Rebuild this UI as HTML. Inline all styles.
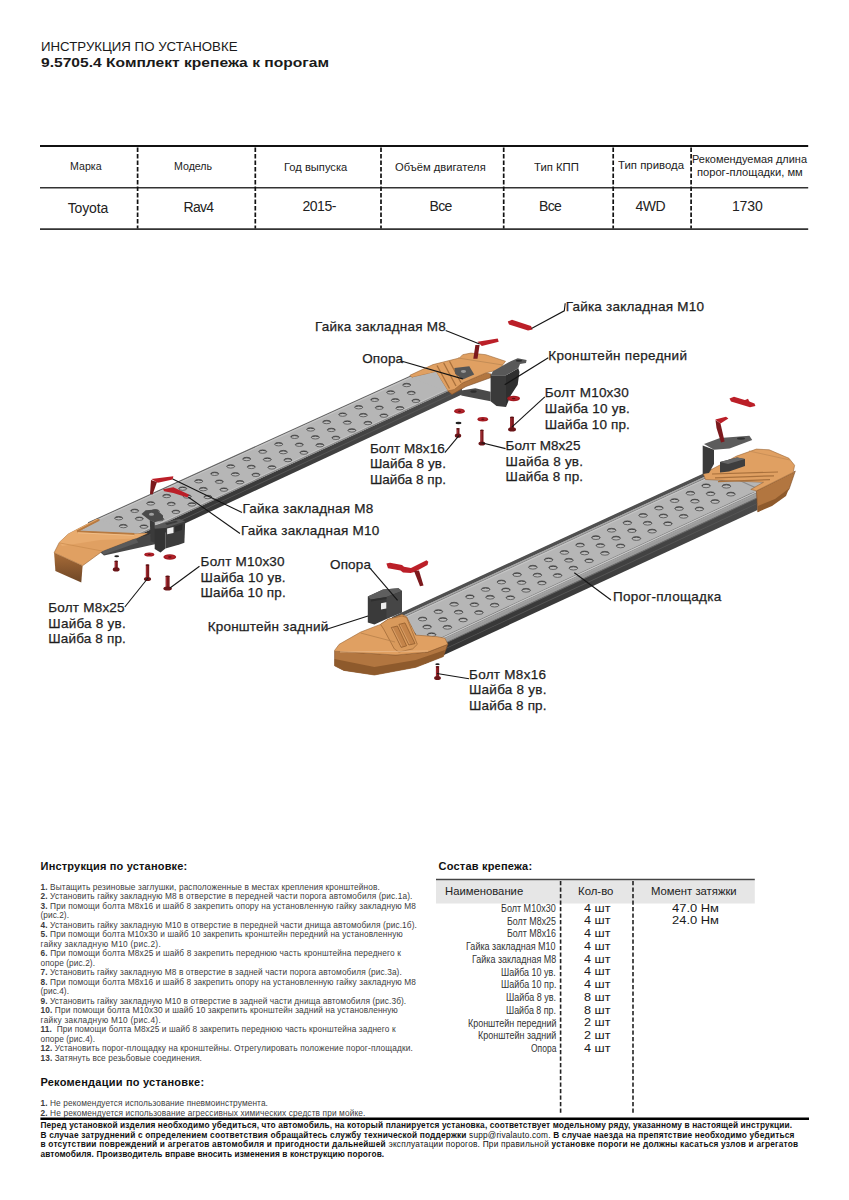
<!DOCTYPE html>
<html><head><meta charset="utf-8"><title>Инструкция по установке</title>
<style>
html,body{margin:0;padding:0;background:#fff;}
body{width:849px;height:1200px;position:relative;overflow:hidden;font-family:"Liberation Sans",sans-serif;}
.t{position:absolute;white-space:pre;line-height:1;font-family:"Liberation Sans",sans-serif;}
.t b{font-weight:700;}
</style></head><body>
<svg width="849" height="1200" viewBox="0 0 849 1200" style="position:absolute;left:0;top:0"><line x1="40.0" y1="146.0" x2="808.2" y2="146.0" stroke="#111" stroke-width="2.2" />
<line x1="40.0" y1="187.8" x2="808.2" y2="187.8" stroke="#333" stroke-width="1.6" />
<line x1="40.0" y1="229.1" x2="808.2" y2="229.1" stroke="#333" stroke-width="1.6" />
<line x1="137.6" y1="147.5" x2="137.6" y2="228.5" stroke="#111" stroke-width="1.7" stroke-dasharray="4.6 1.9"/>
<line x1="255.3" y1="147.5" x2="255.3" y2="228.5" stroke="#111" stroke-width="1.7" stroke-dasharray="4.6 1.9"/>
<line x1="381.0" y1="147.5" x2="381.0" y2="228.5" stroke="#111" stroke-width="1.7" stroke-dasharray="4.6 1.9"/>
<line x1="503.7" y1="147.5" x2="503.7" y2="228.5" stroke="#111" stroke-width="1.7" stroke-dasharray="4.6 1.9"/>
<line x1="613.2" y1="147.5" x2="613.2" y2="228.5" stroke="#111" stroke-width="1.7" stroke-dasharray="4.6 1.9"/>
<line x1="691.1" y1="147.5" x2="691.1" y2="228.5" stroke="#111" stroke-width="1.7" stroke-dasharray="4.6 1.9"/>
<rect x="436" y="880.3" width="318.8" height="23.2" fill="#e6e6e6"/>
<line x1="436.0" y1="879.6" x2="754.8" y2="879.6" stroke="#444" stroke-width="1.5" />
<line x1="560.6" y1="881.0" x2="560.6" y2="1115.0" stroke="#222" stroke-width="1.6" stroke-dasharray="4.2 2.3"/>
<line x1="633.0" y1="881.0" x2="633.0" y2="1115.0" stroke="#222" stroke-width="1.6" stroke-dasharray="4.2 2.3"/>
<line x1="40.4" y1="1118.7" x2="809.0" y2="1118.7" stroke="#000" stroke-width="2.4" />
<linearGradient id="c1g" x1="0" y1="0" x2="0" y2="1"><stop offset="0" stop-color="#4c4c4c"/><stop offset="0.55" stop-color="#3c3c3c"/><stop offset="1" stop-color="#333"/></linearGradient>
<polygon points="130.0,539.0 462.0,384.4 462.0,394.4 130.0,549.0" fill="url(#c1g)" />
<polygon points="130.0,543.6 462.0,389.0 462.0,389.9 130.0,544.5" fill="#565656" />
<polygon points="88.0,522.8 420.0,371.7 462.0,384.4 130.0,539.0" fill="#b6b6b6" />
<polygon points="88.0,522.3 420.0,371.2 420.0,372.5 88.0,523.6" fill="#686868" />
<polygon points="88.0,523.6 420.0,372.5 420.0,373.7 88.0,524.8" fill="#c6c6c6" />
<polygon points="130.0,536.8 462.0,382.2 462.0,383.2 130.0,537.8" fill="#c8c8c8" />
<polygon points="130.0,537.8 462.0,383.2 462.0,384.7 130.0,539.3" fill="#8c8c8c" />
<clipPath id="c1"><polygon points="88.0,522.8 420.0,371.7 462.0,384.4 130.0,539.0"/></clipPath>
<g clip-path="url(#c1)">
<ellipse cx="86.7" cy="533.0" rx="4.0" ry="1.7" fill="#bdbdbd" stroke="#5a5a5a" stroke-width="0.9" />
<path d="M83.0,533.2 A3.7,1.4 0 0 1 90.4,533.2" fill="none" stroke="#444" stroke-width="1.0"/>
<ellipse cx="91.3" cy="540.9" rx="4.0" ry="1.7" fill="#bdbdbd" stroke="#5a5a5a" stroke-width="0.9" />
<path d="M87.6,541.1 A3.7,1.4 0 0 1 95.0,541.1" fill="none" stroke="#444" stroke-width="1.0"/>
<ellipse cx="95.9" cy="548.8" rx="4.0" ry="1.7" fill="#bdbdbd" stroke="#5a5a5a" stroke-width="0.9" />
<path d="M92.2,549.0 A3.7,1.4 0 0 1 99.6,549.0" fill="none" stroke="#444" stroke-width="1.0"/>
<ellipse cx="102.7" cy="525.6" rx="4.0" ry="1.7" fill="#bdbdbd" stroke="#5a5a5a" stroke-width="0.9" />
<path d="M99.0,525.8 A3.7,1.4 0 0 1 106.4,525.8" fill="none" stroke="#444" stroke-width="1.0"/>
<ellipse cx="107.3" cy="533.5" rx="4.0" ry="1.7" fill="#bdbdbd" stroke="#5a5a5a" stroke-width="0.9" />
<path d="M103.6,533.7 A3.7,1.4 0 0 1 111.0,533.7" fill="none" stroke="#444" stroke-width="1.0"/>
<ellipse cx="111.9" cy="541.4" rx="4.0" ry="1.7" fill="#bdbdbd" stroke="#5a5a5a" stroke-width="0.9" />
<path d="M108.2,541.6 A3.7,1.4 0 0 1 115.6,541.6" fill="none" stroke="#444" stroke-width="1.0"/>
<ellipse cx="118.7" cy="518.2" rx="4.0" ry="1.7" fill="#bdbdbd" stroke="#5a5a5a" stroke-width="0.9" />
<path d="M115.0,518.4 A3.7,1.4 0 0 1 122.4,518.4" fill="none" stroke="#444" stroke-width="1.0"/>
<ellipse cx="123.3" cy="526.1" rx="4.0" ry="1.7" fill="#bdbdbd" stroke="#5a5a5a" stroke-width="0.9" />
<path d="M119.6,526.3 A3.7,1.4 0 0 1 127.0,526.3" fill="none" stroke="#444" stroke-width="1.0"/>
<ellipse cx="127.9" cy="534.0" rx="4.0" ry="1.7" fill="#bdbdbd" stroke="#5a5a5a" stroke-width="0.9" />
<path d="M124.2,534.2 A3.7,1.4 0 0 1 131.6,534.2" fill="none" stroke="#444" stroke-width="1.0"/>
<ellipse cx="134.7" cy="510.8" rx="4.0" ry="1.7" fill="#bdbdbd" stroke="#5a5a5a" stroke-width="0.9" />
<path d="M131.0,511.0 A3.7,1.4 0 0 1 138.4,511.0" fill="none" stroke="#444" stroke-width="1.0"/>
<ellipse cx="139.3" cy="518.7" rx="4.0" ry="1.7" fill="#bdbdbd" stroke="#5a5a5a" stroke-width="0.9" />
<path d="M135.6,518.9 A3.7,1.4 0 0 1 143.0,518.9" fill="none" stroke="#444" stroke-width="1.0"/>
<ellipse cx="143.9" cy="526.6" rx="4.0" ry="1.7" fill="#bdbdbd" stroke="#5a5a5a" stroke-width="0.9" />
<path d="M140.2,526.8 A3.7,1.4 0 0 1 147.6,526.8" fill="none" stroke="#444" stroke-width="1.0"/>
<ellipse cx="150.7" cy="503.4" rx="4.0" ry="1.7" fill="#bdbdbd" stroke="#5a5a5a" stroke-width="0.9" />
<path d="M147.0,503.6 A3.7,1.4 0 0 1 154.4,503.6" fill="none" stroke="#444" stroke-width="1.0"/>
<ellipse cx="155.3" cy="511.3" rx="4.0" ry="1.7" fill="#bdbdbd" stroke="#5a5a5a" stroke-width="0.9" />
<path d="M151.6,511.5 A3.7,1.4 0 0 1 159.0,511.5" fill="none" stroke="#444" stroke-width="1.0"/>
<ellipse cx="159.9" cy="519.2" rx="4.0" ry="1.7" fill="#bdbdbd" stroke="#5a5a5a" stroke-width="0.9" />
<path d="M156.2,519.4 A3.7,1.4 0 0 1 163.6,519.4" fill="none" stroke="#444" stroke-width="1.0"/>
<ellipse cx="166.7" cy="496.0" rx="4.0" ry="1.7" fill="#bdbdbd" stroke="#5a5a5a" stroke-width="0.9" />
<path d="M163.0,496.2 A3.7,1.4 0 0 1 170.4,496.2" fill="none" stroke="#444" stroke-width="1.0"/>
<ellipse cx="171.3" cy="503.9" rx="4.0" ry="1.7" fill="#bdbdbd" stroke="#5a5a5a" stroke-width="0.9" />
<path d="M167.6,504.1 A3.7,1.4 0 0 1 175.0,504.1" fill="none" stroke="#444" stroke-width="1.0"/>
<ellipse cx="175.9" cy="511.8" rx="4.0" ry="1.7" fill="#bdbdbd" stroke="#5a5a5a" stroke-width="0.9" />
<path d="M172.2,512.0 A3.7,1.4 0 0 1 179.6,512.0" fill="none" stroke="#444" stroke-width="1.0"/>
<ellipse cx="182.7" cy="488.6" rx="4.0" ry="1.7" fill="#bdbdbd" stroke="#5a5a5a" stroke-width="0.9" />
<path d="M179.0,488.8 A3.7,1.4 0 0 1 186.4,488.8" fill="none" stroke="#444" stroke-width="1.0"/>
<ellipse cx="187.3" cy="496.5" rx="4.0" ry="1.7" fill="#bdbdbd" stroke="#5a5a5a" stroke-width="0.9" />
<path d="M183.6,496.7 A3.7,1.4 0 0 1 191.0,496.7" fill="none" stroke="#444" stroke-width="1.0"/>
<ellipse cx="191.9" cy="504.4" rx="4.0" ry="1.7" fill="#bdbdbd" stroke="#5a5a5a" stroke-width="0.9" />
<path d="M188.2,504.6 A3.7,1.4 0 0 1 195.6,504.6" fill="none" stroke="#444" stroke-width="1.0"/>
<ellipse cx="198.7" cy="481.2" rx="4.0" ry="1.7" fill="#bdbdbd" stroke="#5a5a5a" stroke-width="0.9" />
<path d="M195.0,481.4 A3.7,1.4 0 0 1 202.4,481.4" fill="none" stroke="#444" stroke-width="1.0"/>
<ellipse cx="203.3" cy="489.1" rx="4.0" ry="1.7" fill="#bdbdbd" stroke="#5a5a5a" stroke-width="0.9" />
<path d="M199.6,489.3 A3.7,1.4 0 0 1 207.0,489.3" fill="none" stroke="#444" stroke-width="1.0"/>
<ellipse cx="207.9" cy="497.0" rx="4.0" ry="1.7" fill="#bdbdbd" stroke="#5a5a5a" stroke-width="0.9" />
<path d="M204.2,497.2 A3.7,1.4 0 0 1 211.6,497.2" fill="none" stroke="#444" stroke-width="1.0"/>
<ellipse cx="214.7" cy="473.8" rx="4.0" ry="1.7" fill="#bdbdbd" stroke="#5a5a5a" stroke-width="0.9" />
<path d="M211.0,474.0 A3.7,1.4 0 0 1 218.4,474.0" fill="none" stroke="#444" stroke-width="1.0"/>
<ellipse cx="219.3" cy="481.7" rx="4.0" ry="1.7" fill="#bdbdbd" stroke="#5a5a5a" stroke-width="0.9" />
<path d="M215.6,481.9 A3.7,1.4 0 0 1 223.0,481.9" fill="none" stroke="#444" stroke-width="1.0"/>
<ellipse cx="223.9" cy="489.6" rx="4.0" ry="1.7" fill="#bdbdbd" stroke="#5a5a5a" stroke-width="0.9" />
<path d="M220.2,489.8 A3.7,1.4 0 0 1 227.6,489.8" fill="none" stroke="#444" stroke-width="1.0"/>
<ellipse cx="230.7" cy="466.4" rx="4.0" ry="1.7" fill="#bdbdbd" stroke="#5a5a5a" stroke-width="0.9" />
<path d="M227.0,466.6 A3.7,1.4 0 0 1 234.4,466.6" fill="none" stroke="#444" stroke-width="1.0"/>
<ellipse cx="235.3" cy="474.3" rx="4.0" ry="1.7" fill="#bdbdbd" stroke="#5a5a5a" stroke-width="0.9" />
<path d="M231.6,474.5 A3.7,1.4 0 0 1 239.0,474.5" fill="none" stroke="#444" stroke-width="1.0"/>
<ellipse cx="239.9" cy="482.2" rx="4.0" ry="1.7" fill="#bdbdbd" stroke="#5a5a5a" stroke-width="0.9" />
<path d="M236.2,482.4 A3.7,1.4 0 0 1 243.6,482.4" fill="none" stroke="#444" stroke-width="1.0"/>
<ellipse cx="246.7" cy="459.0" rx="4.0" ry="1.7" fill="#bdbdbd" stroke="#5a5a5a" stroke-width="0.9" />
<path d="M243.0,459.2 A3.7,1.4 0 0 1 250.4,459.2" fill="none" stroke="#444" stroke-width="1.0"/>
<ellipse cx="251.3" cy="466.9" rx="4.0" ry="1.7" fill="#bdbdbd" stroke="#5a5a5a" stroke-width="0.9" />
<path d="M247.6,467.1 A3.7,1.4 0 0 1 255.0,467.1" fill="none" stroke="#444" stroke-width="1.0"/>
<ellipse cx="255.9" cy="474.8" rx="4.0" ry="1.7" fill="#bdbdbd" stroke="#5a5a5a" stroke-width="0.9" />
<path d="M252.2,475.0 A3.7,1.4 0 0 1 259.6,475.0" fill="none" stroke="#444" stroke-width="1.0"/>
<ellipse cx="262.7" cy="451.6" rx="4.0" ry="1.7" fill="#bdbdbd" stroke="#5a5a5a" stroke-width="0.9" />
<path d="M259.0,451.8 A3.7,1.4 0 0 1 266.4,451.8" fill="none" stroke="#444" stroke-width="1.0"/>
<ellipse cx="267.3" cy="459.5" rx="4.0" ry="1.7" fill="#bdbdbd" stroke="#5a5a5a" stroke-width="0.9" />
<path d="M263.6,459.7 A3.7,1.4 0 0 1 271.0,459.7" fill="none" stroke="#444" stroke-width="1.0"/>
<ellipse cx="271.9" cy="467.4" rx="4.0" ry="1.7" fill="#bdbdbd" stroke="#5a5a5a" stroke-width="0.9" />
<path d="M268.2,467.6 A3.7,1.4 0 0 1 275.6,467.6" fill="none" stroke="#444" stroke-width="1.0"/>
<ellipse cx="278.7" cy="444.2" rx="4.0" ry="1.7" fill="#bdbdbd" stroke="#5a5a5a" stroke-width="0.9" />
<path d="M275.0,444.4 A3.7,1.4 0 0 1 282.4,444.4" fill="none" stroke="#444" stroke-width="1.0"/>
<ellipse cx="283.3" cy="452.1" rx="4.0" ry="1.7" fill="#bdbdbd" stroke="#5a5a5a" stroke-width="0.9" />
<path d="M279.6,452.3 A3.7,1.4 0 0 1 287.0,452.3" fill="none" stroke="#444" stroke-width="1.0"/>
<ellipse cx="287.9" cy="460.0" rx="4.0" ry="1.7" fill="#bdbdbd" stroke="#5a5a5a" stroke-width="0.9" />
<path d="M284.2,460.2 A3.7,1.4 0 0 1 291.6,460.2" fill="none" stroke="#444" stroke-width="1.0"/>
<ellipse cx="294.7" cy="436.8" rx="4.0" ry="1.7" fill="#bdbdbd" stroke="#5a5a5a" stroke-width="0.9" />
<path d="M291.0,437.0 A3.7,1.4 0 0 1 298.4,437.0" fill="none" stroke="#444" stroke-width="1.0"/>
<ellipse cx="299.3" cy="444.7" rx="4.0" ry="1.7" fill="#bdbdbd" stroke="#5a5a5a" stroke-width="0.9" />
<path d="M295.6,444.9 A3.7,1.4 0 0 1 303.0,444.9" fill="none" stroke="#444" stroke-width="1.0"/>
<ellipse cx="303.9" cy="452.6" rx="4.0" ry="1.7" fill="#bdbdbd" stroke="#5a5a5a" stroke-width="0.9" />
<path d="M300.2,452.8 A3.7,1.4 0 0 1 307.6,452.8" fill="none" stroke="#444" stroke-width="1.0"/>
<ellipse cx="310.7" cy="429.4" rx="4.0" ry="1.7" fill="#bdbdbd" stroke="#5a5a5a" stroke-width="0.9" />
<path d="M307.0,429.6 A3.7,1.4 0 0 1 314.4,429.6" fill="none" stroke="#444" stroke-width="1.0"/>
<ellipse cx="315.3" cy="437.3" rx="4.0" ry="1.7" fill="#bdbdbd" stroke="#5a5a5a" stroke-width="0.9" />
<path d="M311.6,437.5 A3.7,1.4 0 0 1 319.0,437.5" fill="none" stroke="#444" stroke-width="1.0"/>
<ellipse cx="319.9" cy="445.2" rx="4.0" ry="1.7" fill="#bdbdbd" stroke="#5a5a5a" stroke-width="0.9" />
<path d="M316.2,445.4 A3.7,1.4 0 0 1 323.6,445.4" fill="none" stroke="#444" stroke-width="1.0"/>
<ellipse cx="326.7" cy="422.0" rx="4.0" ry="1.7" fill="#bdbdbd" stroke="#5a5a5a" stroke-width="0.9" />
<path d="M323.0,422.2 A3.7,1.4 0 0 1 330.4,422.2" fill="none" stroke="#444" stroke-width="1.0"/>
<ellipse cx="331.3" cy="429.9" rx="4.0" ry="1.7" fill="#bdbdbd" stroke="#5a5a5a" stroke-width="0.9" />
<path d="M327.6,430.1 A3.7,1.4 0 0 1 335.0,430.1" fill="none" stroke="#444" stroke-width="1.0"/>
<ellipse cx="335.9" cy="437.8" rx="4.0" ry="1.7" fill="#bdbdbd" stroke="#5a5a5a" stroke-width="0.9" />
<path d="M332.2,438.0 A3.7,1.4 0 0 1 339.6,438.0" fill="none" stroke="#444" stroke-width="1.0"/>
<ellipse cx="342.7" cy="414.6" rx="4.0" ry="1.7" fill="#bdbdbd" stroke="#5a5a5a" stroke-width="0.9" />
<path d="M339.0,414.8 A3.7,1.4 0 0 1 346.4,414.8" fill="none" stroke="#444" stroke-width="1.0"/>
<ellipse cx="347.3" cy="422.5" rx="4.0" ry="1.7" fill="#bdbdbd" stroke="#5a5a5a" stroke-width="0.9" />
<path d="M343.6,422.7 A3.7,1.4 0 0 1 351.0,422.7" fill="none" stroke="#444" stroke-width="1.0"/>
<ellipse cx="351.9" cy="430.4" rx="4.0" ry="1.7" fill="#bdbdbd" stroke="#5a5a5a" stroke-width="0.9" />
<path d="M348.2,430.6 A3.7,1.4 0 0 1 355.6,430.6" fill="none" stroke="#444" stroke-width="1.0"/>
<ellipse cx="358.7" cy="407.2" rx="4.0" ry="1.7" fill="#bdbdbd" stroke="#5a5a5a" stroke-width="0.9" />
<path d="M355.0,407.4 A3.7,1.4 0 0 1 362.4,407.4" fill="none" stroke="#444" stroke-width="1.0"/>
<ellipse cx="363.3" cy="415.1" rx="4.0" ry="1.7" fill="#bdbdbd" stroke="#5a5a5a" stroke-width="0.9" />
<path d="M359.6,415.3 A3.7,1.4 0 0 1 367.0,415.3" fill="none" stroke="#444" stroke-width="1.0"/>
<ellipse cx="367.9" cy="423.0" rx="4.0" ry="1.7" fill="#bdbdbd" stroke="#5a5a5a" stroke-width="0.9" />
<path d="M364.2,423.2 A3.7,1.4 0 0 1 371.6,423.2" fill="none" stroke="#444" stroke-width="1.0"/>
<ellipse cx="374.7" cy="399.8" rx="4.0" ry="1.7" fill="#bdbdbd" stroke="#5a5a5a" stroke-width="0.9" />
<path d="M371.0,400.0 A3.7,1.4 0 0 1 378.4,400.0" fill="none" stroke="#444" stroke-width="1.0"/>
<ellipse cx="379.3" cy="407.7" rx="4.0" ry="1.7" fill="#bdbdbd" stroke="#5a5a5a" stroke-width="0.9" />
<path d="M375.6,407.9 A3.7,1.4 0 0 1 383.0,407.9" fill="none" stroke="#444" stroke-width="1.0"/>
<ellipse cx="383.9" cy="415.6" rx="4.0" ry="1.7" fill="#bdbdbd" stroke="#5a5a5a" stroke-width="0.9" />
<path d="M380.2,415.8 A3.7,1.4 0 0 1 387.6,415.8" fill="none" stroke="#444" stroke-width="1.0"/>
<ellipse cx="390.7" cy="392.4" rx="4.0" ry="1.7" fill="#bdbdbd" stroke="#5a5a5a" stroke-width="0.9" />
<path d="M387.0,392.6 A3.7,1.4 0 0 1 394.4,392.6" fill="none" stroke="#444" stroke-width="1.0"/>
<ellipse cx="395.3" cy="400.3" rx="4.0" ry="1.7" fill="#bdbdbd" stroke="#5a5a5a" stroke-width="0.9" />
<path d="M391.6,400.5 A3.7,1.4 0 0 1 399.0,400.5" fill="none" stroke="#444" stroke-width="1.0"/>
<ellipse cx="399.9" cy="408.2" rx="4.0" ry="1.7" fill="#bdbdbd" stroke="#5a5a5a" stroke-width="0.9" />
<path d="M396.2,408.4 A3.7,1.4 0 0 1 403.6,408.4" fill="none" stroke="#444" stroke-width="1.0"/>
<ellipse cx="406.7" cy="385.0" rx="4.0" ry="1.7" fill="#bdbdbd" stroke="#5a5a5a" stroke-width="0.9" />
<path d="M403.0,385.2 A3.7,1.4 0 0 1 410.4,385.2" fill="none" stroke="#444" stroke-width="1.0"/>
<ellipse cx="411.3" cy="392.9" rx="4.0" ry="1.7" fill="#bdbdbd" stroke="#5a5a5a" stroke-width="0.9" />
<path d="M407.6,393.1 A3.7,1.4 0 0 1 415.0,393.1" fill="none" stroke="#444" stroke-width="1.0"/>
<ellipse cx="415.9" cy="400.8" rx="4.0" ry="1.7" fill="#bdbdbd" stroke="#5a5a5a" stroke-width="0.9" />
<path d="M412.2,401.0 A3.7,1.4 0 0 1 419.6,401.0" fill="none" stroke="#444" stroke-width="1.0"/>
</g>
<linearGradient id="c2g" x1="0" y1="0" x2="0" y2="1"><stop offset="0" stop-color="#4c4c4c"/><stop offset="0.55" stop-color="#3c3c3c"/><stop offset="1" stop-color="#333"/></linearGradient>
<polygon points="425.0,648.7 757.5,493.9 757.5,509.9 425.0,663.7" fill="url(#c2g)" />
<polygon points="425.0,648.7 757.5,493.9 757.5,497.7 425.0,652.5" fill="#9b9b9b" />
<polygon points="425.0,652.0 757.5,497.2 757.5,498.3 425.0,653.1" fill="#6a6a6a" />
<polygon points="425.0,657.7 757.5,502.9 757.5,503.8 425.0,658.6" fill="#565656" />
<polygon points="392.0,617.5 722.0,465.5 757.5,493.9 425.0,648.7" fill="#b6b6b6" />
<polygon points="392.0,616.9 722.0,464.9 722.0,468.7 392.0,620.7" fill="#505050" />
<polygon points="392.0,620.7 722.0,468.7 722.0,470.1 392.0,622.1" fill="#a8a8a8" />
<polygon points="392.0,622.1 722.0,470.1 722.0,470.9 392.0,622.9" fill="#7a7a7a" />
<polygon points="392.0,622.9 722.0,470.9 722.0,472.1 392.0,624.1" fill="#c6c6c6" />
<polygon points="425.0,644.9 757.5,490.1 757.5,490.9 425.0,645.7" fill="#7e7e7e" />
<polygon points="425.0,645.7 757.5,490.9 757.5,492.1 425.0,646.9" fill="#cacaca" />
<polygon points="425.0,646.9 757.5,492.1 757.5,492.9 425.0,647.7" fill="#888" />
<polygon points="425.0,647.7 757.5,492.9 757.5,494.2 425.0,649.0" fill="#a2a2a2" />
<clipPath id="c2"><polygon points="392.0,617.5 722.0,465.5 757.5,493.9 425.0,648.7"/></clipPath>
<g clip-path="url(#c2)">
<ellipse cx="391.1" cy="633.8" rx="4.3" ry="1.9" fill="#bdbdbd" stroke="#5a5a5a" stroke-width="0.9" />
<path d="M387.1,634.0 A4.0,1.6 0 0 1 395.1,634.0" fill="none" stroke="#444" stroke-width="1.0"/>
<ellipse cx="395.6" cy="641.6" rx="4.3" ry="1.9" fill="#bdbdbd" stroke="#5a5a5a" stroke-width="0.9" />
<path d="M391.6,641.9 A4.0,1.6 0 0 1 399.6,641.9" fill="none" stroke="#444" stroke-width="1.0"/>
<ellipse cx="400.1" cy="649.5" rx="4.3" ry="1.9" fill="#bdbdbd" stroke="#5a5a5a" stroke-width="0.9" />
<path d="M396.1,649.7 A4.0,1.6 0 0 1 404.1,649.7" fill="none" stroke="#444" stroke-width="1.0"/>
<ellipse cx="406.9" cy="626.4" rx="4.3" ry="1.9" fill="#bdbdbd" stroke="#5a5a5a" stroke-width="0.9" />
<path d="M402.9,626.6 A4.0,1.6 0 0 1 410.9,626.6" fill="none" stroke="#444" stroke-width="1.0"/>
<ellipse cx="411.4" cy="634.2" rx="4.3" ry="1.9" fill="#bdbdbd" stroke="#5a5a5a" stroke-width="0.9" />
<path d="M407.4,634.5 A4.0,1.6 0 0 1 415.4,634.5" fill="none" stroke="#444" stroke-width="1.0"/>
<ellipse cx="415.9" cy="642.1" rx="4.3" ry="1.9" fill="#bdbdbd" stroke="#5a5a5a" stroke-width="0.9" />
<path d="M411.9,642.3 A4.0,1.6 0 0 1 419.9,642.3" fill="none" stroke="#444" stroke-width="1.0"/>
<ellipse cx="422.6" cy="619.0" rx="4.3" ry="1.9" fill="#bdbdbd" stroke="#5a5a5a" stroke-width="0.9" />
<path d="M418.6,619.2 A4.0,1.6 0 0 1 426.6,619.2" fill="none" stroke="#444" stroke-width="1.0"/>
<ellipse cx="427.1" cy="626.9" rx="4.3" ry="1.9" fill="#bdbdbd" stroke="#5a5a5a" stroke-width="0.9" />
<path d="M423.1,627.1 A4.0,1.6 0 0 1 431.1,627.1" fill="none" stroke="#444" stroke-width="1.0"/>
<ellipse cx="431.6" cy="634.7" rx="4.3" ry="1.9" fill="#bdbdbd" stroke="#5a5a5a" stroke-width="0.9" />
<path d="M427.6,634.9 A4.0,1.6 0 0 1 435.6,634.9" fill="none" stroke="#444" stroke-width="1.0"/>
<ellipse cx="438.4" cy="611.6" rx="4.3" ry="1.9" fill="#bdbdbd" stroke="#5a5a5a" stroke-width="0.9" />
<path d="M434.4,611.8 A4.0,1.6 0 0 1 442.4,611.8" fill="none" stroke="#444" stroke-width="1.0"/>
<ellipse cx="442.9" cy="619.5" rx="4.3" ry="1.9" fill="#bdbdbd" stroke="#5a5a5a" stroke-width="0.9" />
<path d="M438.9,619.7 A4.0,1.6 0 0 1 446.9,619.7" fill="none" stroke="#444" stroke-width="1.0"/>
<ellipse cx="447.4" cy="627.3" rx="4.3" ry="1.9" fill="#bdbdbd" stroke="#5a5a5a" stroke-width="0.9" />
<path d="M443.4,627.5 A4.0,1.6 0 0 1 451.4,627.5" fill="none" stroke="#444" stroke-width="1.0"/>
<ellipse cx="454.1" cy="604.2" rx="4.3" ry="1.9" fill="#bdbdbd" stroke="#5a5a5a" stroke-width="0.9" />
<path d="M450.1,604.4 A4.0,1.6 0 0 1 458.1,604.4" fill="none" stroke="#444" stroke-width="1.0"/>
<ellipse cx="458.6" cy="612.1" rx="4.3" ry="1.9" fill="#bdbdbd" stroke="#5a5a5a" stroke-width="0.9" />
<path d="M454.6,612.3 A4.0,1.6 0 0 1 462.6,612.3" fill="none" stroke="#444" stroke-width="1.0"/>
<ellipse cx="463.1" cy="619.9" rx="4.3" ry="1.9" fill="#bdbdbd" stroke="#5a5a5a" stroke-width="0.9" />
<path d="M459.1,620.1 A4.0,1.6 0 0 1 467.1,620.1" fill="none" stroke="#444" stroke-width="1.0"/>
<ellipse cx="469.9" cy="596.8" rx="4.3" ry="1.9" fill="#bdbdbd" stroke="#5a5a5a" stroke-width="0.9" />
<path d="M465.9,597.0 A4.0,1.6 0 0 1 473.9,597.0" fill="none" stroke="#444" stroke-width="1.0"/>
<ellipse cx="474.4" cy="604.6" rx="4.3" ry="1.9" fill="#bdbdbd" stroke="#5a5a5a" stroke-width="0.9" />
<path d="M470.4,604.9 A4.0,1.6 0 0 1 478.4,604.9" fill="none" stroke="#444" stroke-width="1.0"/>
<ellipse cx="478.9" cy="612.5" rx="4.3" ry="1.9" fill="#bdbdbd" stroke="#5a5a5a" stroke-width="0.9" />
<path d="M474.9,612.7 A4.0,1.6 0 0 1 482.9,612.7" fill="none" stroke="#444" stroke-width="1.0"/>
<ellipse cx="485.6" cy="589.4" rx="4.3" ry="1.9" fill="#bdbdbd" stroke="#5a5a5a" stroke-width="0.9" />
<path d="M481.6,589.6 A4.0,1.6 0 0 1 489.6,589.6" fill="none" stroke="#444" stroke-width="1.0"/>
<ellipse cx="490.1" cy="597.2" rx="4.3" ry="1.9" fill="#bdbdbd" stroke="#5a5a5a" stroke-width="0.9" />
<path d="M486.1,597.5 A4.0,1.6 0 0 1 494.1,597.5" fill="none" stroke="#444" stroke-width="1.0"/>
<ellipse cx="494.6" cy="605.1" rx="4.3" ry="1.9" fill="#bdbdbd" stroke="#5a5a5a" stroke-width="0.9" />
<path d="M490.6,605.3 A4.0,1.6 0 0 1 498.6,605.3" fill="none" stroke="#444" stroke-width="1.0"/>
<ellipse cx="501.4" cy="582.0" rx="4.3" ry="1.9" fill="#bdbdbd" stroke="#5a5a5a" stroke-width="0.9" />
<path d="M497.4,582.2 A4.0,1.6 0 0 1 505.4,582.2" fill="none" stroke="#444" stroke-width="1.0"/>
<ellipse cx="505.9" cy="589.9" rx="4.3" ry="1.9" fill="#bdbdbd" stroke="#5a5a5a" stroke-width="0.9" />
<path d="M501.9,590.1 A4.0,1.6 0 0 1 509.9,590.1" fill="none" stroke="#444" stroke-width="1.0"/>
<ellipse cx="510.4" cy="597.7" rx="4.3" ry="1.9" fill="#bdbdbd" stroke="#5a5a5a" stroke-width="0.9" />
<path d="M506.4,597.9 A4.0,1.6 0 0 1 514.4,597.9" fill="none" stroke="#444" stroke-width="1.0"/>
<ellipse cx="517.1" cy="574.6" rx="4.3" ry="1.9" fill="#bdbdbd" stroke="#5a5a5a" stroke-width="0.9" />
<path d="M513.1,574.8 A4.0,1.6 0 0 1 521.1,574.8" fill="none" stroke="#444" stroke-width="1.0"/>
<ellipse cx="521.6" cy="582.5" rx="4.3" ry="1.9" fill="#bdbdbd" stroke="#5a5a5a" stroke-width="0.9" />
<path d="M517.6,582.7 A4.0,1.6 0 0 1 525.6,582.7" fill="none" stroke="#444" stroke-width="1.0"/>
<ellipse cx="526.1" cy="590.3" rx="4.3" ry="1.9" fill="#bdbdbd" stroke="#5a5a5a" stroke-width="0.9" />
<path d="M522.1,590.5 A4.0,1.6 0 0 1 530.1,590.5" fill="none" stroke="#444" stroke-width="1.0"/>
<ellipse cx="532.9" cy="567.2" rx="4.3" ry="1.9" fill="#bdbdbd" stroke="#5a5a5a" stroke-width="0.9" />
<path d="M528.9,567.4 A4.0,1.6 0 0 1 536.9,567.4" fill="none" stroke="#444" stroke-width="1.0"/>
<ellipse cx="537.4" cy="575.1" rx="4.3" ry="1.9" fill="#bdbdbd" stroke="#5a5a5a" stroke-width="0.9" />
<path d="M533.4,575.3 A4.0,1.6 0 0 1 541.4,575.3" fill="none" stroke="#444" stroke-width="1.0"/>
<ellipse cx="541.9" cy="582.9" rx="4.3" ry="1.9" fill="#bdbdbd" stroke="#5a5a5a" stroke-width="0.9" />
<path d="M537.9,583.1 A4.0,1.6 0 0 1 545.9,583.1" fill="none" stroke="#444" stroke-width="1.0"/>
<ellipse cx="548.6" cy="559.8" rx="4.3" ry="1.9" fill="#bdbdbd" stroke="#5a5a5a" stroke-width="0.9" />
<path d="M544.6,560.0 A4.0,1.6 0 0 1 552.6,560.0" fill="none" stroke="#444" stroke-width="1.0"/>
<ellipse cx="553.1" cy="567.6" rx="4.3" ry="1.9" fill="#bdbdbd" stroke="#5a5a5a" stroke-width="0.9" />
<path d="M549.1,567.9 A4.0,1.6 0 0 1 557.1,567.9" fill="none" stroke="#444" stroke-width="1.0"/>
<ellipse cx="557.6" cy="575.5" rx="4.3" ry="1.9" fill="#bdbdbd" stroke="#5a5a5a" stroke-width="0.9" />
<path d="M553.6,575.7 A4.0,1.6 0 0 1 561.6,575.7" fill="none" stroke="#444" stroke-width="1.0"/>
<ellipse cx="564.4" cy="552.4" rx="4.3" ry="1.9" fill="#bdbdbd" stroke="#5a5a5a" stroke-width="0.9" />
<path d="M560.4,552.6 A4.0,1.6 0 0 1 568.4,552.6" fill="none" stroke="#444" stroke-width="1.0"/>
<ellipse cx="568.9" cy="560.2" rx="4.3" ry="1.9" fill="#bdbdbd" stroke="#5a5a5a" stroke-width="0.9" />
<path d="M564.9,560.5 A4.0,1.6 0 0 1 572.9,560.5" fill="none" stroke="#444" stroke-width="1.0"/>
<ellipse cx="573.4" cy="568.1" rx="4.3" ry="1.9" fill="#bdbdbd" stroke="#5a5a5a" stroke-width="0.9" />
<path d="M569.4,568.3 A4.0,1.6 0 0 1 577.4,568.3" fill="none" stroke="#444" stroke-width="1.0"/>
<ellipse cx="580.1" cy="545.0" rx="4.3" ry="1.9" fill="#bdbdbd" stroke="#5a5a5a" stroke-width="0.9" />
<path d="M576.1,545.2 A4.0,1.6 0 0 1 584.1,545.2" fill="none" stroke="#444" stroke-width="1.0"/>
<ellipse cx="584.6" cy="552.9" rx="4.3" ry="1.9" fill="#bdbdbd" stroke="#5a5a5a" stroke-width="0.9" />
<path d="M580.6,553.1 A4.0,1.6 0 0 1 588.6,553.1" fill="none" stroke="#444" stroke-width="1.0"/>
<ellipse cx="589.1" cy="560.7" rx="4.3" ry="1.9" fill="#bdbdbd" stroke="#5a5a5a" stroke-width="0.9" />
<path d="M585.1,560.9 A4.0,1.6 0 0 1 593.1,560.9" fill="none" stroke="#444" stroke-width="1.0"/>
<ellipse cx="595.9" cy="537.6" rx="4.3" ry="1.9" fill="#bdbdbd" stroke="#5a5a5a" stroke-width="0.9" />
<path d="M591.9,537.8 A4.0,1.6 0 0 1 599.9,537.8" fill="none" stroke="#444" stroke-width="1.0"/>
<ellipse cx="600.4" cy="545.5" rx="4.3" ry="1.9" fill="#bdbdbd" stroke="#5a5a5a" stroke-width="0.9" />
<path d="M596.4,545.7 A4.0,1.6 0 0 1 604.4,545.7" fill="none" stroke="#444" stroke-width="1.0"/>
<ellipse cx="604.9" cy="553.3" rx="4.3" ry="1.9" fill="#bdbdbd" stroke="#5a5a5a" stroke-width="0.9" />
<path d="M600.9,553.5 A4.0,1.6 0 0 1 608.9,553.5" fill="none" stroke="#444" stroke-width="1.0"/>
<ellipse cx="611.6" cy="530.2" rx="4.3" ry="1.9" fill="#bdbdbd" stroke="#5a5a5a" stroke-width="0.9" />
<path d="M607.6,530.4 A4.0,1.6 0 0 1 615.6,530.4" fill="none" stroke="#444" stroke-width="1.0"/>
<ellipse cx="616.1" cy="538.1" rx="4.3" ry="1.9" fill="#bdbdbd" stroke="#5a5a5a" stroke-width="0.9" />
<path d="M612.1,538.3 A4.0,1.6 0 0 1 620.1,538.3" fill="none" stroke="#444" stroke-width="1.0"/>
<ellipse cx="620.6" cy="545.9" rx="4.3" ry="1.9" fill="#bdbdbd" stroke="#5a5a5a" stroke-width="0.9" />
<path d="M616.6,546.1 A4.0,1.6 0 0 1 624.6,546.1" fill="none" stroke="#444" stroke-width="1.0"/>
<ellipse cx="627.4" cy="522.8" rx="4.3" ry="1.9" fill="#bdbdbd" stroke="#5a5a5a" stroke-width="0.9" />
<path d="M623.4,523.0 A4.0,1.6 0 0 1 631.4,523.0" fill="none" stroke="#444" stroke-width="1.0"/>
<ellipse cx="631.9" cy="530.6" rx="4.3" ry="1.9" fill="#bdbdbd" stroke="#5a5a5a" stroke-width="0.9" />
<path d="M627.9,530.9 A4.0,1.6 0 0 1 635.9,530.9" fill="none" stroke="#444" stroke-width="1.0"/>
<ellipse cx="636.4" cy="538.5" rx="4.3" ry="1.9" fill="#bdbdbd" stroke="#5a5a5a" stroke-width="0.9" />
<path d="M632.4,538.7 A4.0,1.6 0 0 1 640.4,538.7" fill="none" stroke="#444" stroke-width="1.0"/>
<ellipse cx="643.1" cy="515.4" rx="4.3" ry="1.9" fill="#bdbdbd" stroke="#5a5a5a" stroke-width="0.9" />
<path d="M639.1,515.6 A4.0,1.6 0 0 1 647.1,515.6" fill="none" stroke="#444" stroke-width="1.0"/>
<ellipse cx="647.6" cy="523.2" rx="4.3" ry="1.9" fill="#bdbdbd" stroke="#5a5a5a" stroke-width="0.9" />
<path d="M643.6,523.5 A4.0,1.6 0 0 1 651.6,523.5" fill="none" stroke="#444" stroke-width="1.0"/>
<ellipse cx="652.1" cy="531.1" rx="4.3" ry="1.9" fill="#bdbdbd" stroke="#5a5a5a" stroke-width="0.9" />
<path d="M648.1,531.3 A4.0,1.6 0 0 1 656.1,531.3" fill="none" stroke="#444" stroke-width="1.0"/>
<ellipse cx="658.9" cy="508.0" rx="4.3" ry="1.9" fill="#bdbdbd" stroke="#5a5a5a" stroke-width="0.9" />
<path d="M654.9,508.2 A4.0,1.6 0 0 1 662.9,508.2" fill="none" stroke="#444" stroke-width="1.0"/>
<ellipse cx="663.4" cy="515.9" rx="4.3" ry="1.9" fill="#bdbdbd" stroke="#5a5a5a" stroke-width="0.9" />
<path d="M659.4,516.1 A4.0,1.6 0 0 1 667.4,516.1" fill="none" stroke="#444" stroke-width="1.0"/>
<ellipse cx="667.9" cy="523.7" rx="4.3" ry="1.9" fill="#bdbdbd" stroke="#5a5a5a" stroke-width="0.9" />
<path d="M663.9,523.9 A4.0,1.6 0 0 1 671.9,523.9" fill="none" stroke="#444" stroke-width="1.0"/>
<ellipse cx="674.6" cy="500.6" rx="4.3" ry="1.9" fill="#bdbdbd" stroke="#5a5a5a" stroke-width="0.9" />
<path d="M670.6,500.8 A4.0,1.6 0 0 1 678.6,500.8" fill="none" stroke="#444" stroke-width="1.0"/>
<ellipse cx="679.1" cy="508.5" rx="4.3" ry="1.9" fill="#bdbdbd" stroke="#5a5a5a" stroke-width="0.9" />
<path d="M675.1,508.7 A4.0,1.6 0 0 1 683.1,508.7" fill="none" stroke="#444" stroke-width="1.0"/>
<ellipse cx="683.6" cy="516.3" rx="4.3" ry="1.9" fill="#bdbdbd" stroke="#5a5a5a" stroke-width="0.9" />
<path d="M679.6,516.5 A4.0,1.6 0 0 1 687.6,516.5" fill="none" stroke="#444" stroke-width="1.0"/>
<ellipse cx="690.4" cy="493.2" rx="4.3" ry="1.9" fill="#bdbdbd" stroke="#5a5a5a" stroke-width="0.9" />
<path d="M686.4,493.4 A4.0,1.6 0 0 1 694.4,493.4" fill="none" stroke="#444" stroke-width="1.0"/>
<ellipse cx="694.9" cy="501.1" rx="4.3" ry="1.9" fill="#bdbdbd" stroke="#5a5a5a" stroke-width="0.9" />
<path d="M690.9,501.2 A4.0,1.6 0 0 1 698.9,501.2" fill="none" stroke="#444" stroke-width="1.0"/>
<ellipse cx="699.4" cy="508.9" rx="4.3" ry="1.9" fill="#bdbdbd" stroke="#5a5a5a" stroke-width="0.9" />
<path d="M695.4,509.1 A4.0,1.6 0 0 1 703.4,509.1" fill="none" stroke="#444" stroke-width="1.0"/>
<ellipse cx="706.1" cy="485.8" rx="4.3" ry="1.9" fill="#bdbdbd" stroke="#5a5a5a" stroke-width="0.9" />
<path d="M702.1,486.0 A4.0,1.6 0 0 1 710.1,486.0" fill="none" stroke="#444" stroke-width="1.0"/>
<ellipse cx="710.6" cy="493.7" rx="4.3" ry="1.9" fill="#bdbdbd" stroke="#5a5a5a" stroke-width="0.9" />
<path d="M706.6,493.9 A4.0,1.6 0 0 1 714.6,493.9" fill="none" stroke="#444" stroke-width="1.0"/>
<ellipse cx="715.1" cy="501.5" rx="4.3" ry="1.9" fill="#bdbdbd" stroke="#5a5a5a" stroke-width="0.9" />
<path d="M711.1,501.7 A4.0,1.6 0 0 1 719.1,501.7" fill="none" stroke="#444" stroke-width="1.0"/>
<ellipse cx="721.9" cy="478.4" rx="4.3" ry="1.9" fill="#bdbdbd" stroke="#5a5a5a" stroke-width="0.9" />
<path d="M717.9,478.6 A4.0,1.6 0 0 1 725.9,478.6" fill="none" stroke="#444" stroke-width="1.0"/>
<ellipse cx="726.4" cy="486.2" rx="4.3" ry="1.9" fill="#bdbdbd" stroke="#5a5a5a" stroke-width="0.9" />
<path d="M722.4,486.4 A4.0,1.6 0 0 1 730.4,486.4" fill="none" stroke="#444" stroke-width="1.0"/>
<ellipse cx="730.9" cy="494.1" rx="4.3" ry="1.9" fill="#bdbdbd" stroke="#5a5a5a" stroke-width="0.9" />
<path d="M726.9,494.3 A4.0,1.6 0 0 1 734.9,494.3" fill="none" stroke="#444" stroke-width="1.0"/>
</g>
<polygon points="100.0,552.0 138.0,537.0 156.0,534.0 156.0,544.0 104.0,555.5" fill="#474747" />
<linearGradient id="sk1" x1="0" y1="0" x2="0" y2="1"><stop offset="0" stop-color="#a86c38"/><stop offset="1" stop-color="#6e4626"/></linearGradient>
<polygon points="54.1,552.8 82.6,565.7 81.3,582.6 55.4,570.9" fill="url(#sk1)" />
<polygon points="76.0,531.5 99.4,519.2 136.0,534.0" fill="#b6b6b6" />
<polygon points="54.1,552.8 59.3,542.4 68.3,534.0 96.8,519.1 99.4,519.7 78.0,531.5 134.4,534.0 147.4,533.3 135.7,538.5 102.0,551.5 82.6,565.7" fill="#e0a062" stroke="#9a6434" stroke-width="0.6" stroke-linejoin="round" />
<polygon points="59.3,542.4 68.3,534.0 96.8,519.1 99.4,519.7 78.0,531.5 134.4,534.0 147.4,533.3 135.7,538.5 100.0,540.0 62.0,546.0" fill="#e8ab6e" />
<line x1="77.0" y1="531.3" x2="99.2" y2="519.9" stroke="#b87a40" stroke-width="1.8" />
<line x1="77.0" y1="531.3" x2="134.4" y2="534.0" stroke="#b87a40" stroke-width="1.8" />
<line x1="78.0" y1="532.8" x2="134.0" y2="535.4" stroke="#f3c592" stroke-width="0.7" />
<line x1="60.0" y1="543.0" x2="102.0" y2="551.0" stroke="#c8894c" stroke-width="0.7" />
<polygon points="102.0,551.5 135.7,538.5 138.3,542.4 103.3,554.7" fill="#5a5a5a" />
<polygon points="447.8,391.0 462.7,382.8 485.8,372.9 491.0,374.0 491.0,377.5 466.0,386.5 452.0,394.5" fill="#b27640" stroke="#7a4a24" stroke-width="0.6" stroke-linejoin="round" />
<polygon points="409.9,375.3 433.0,364.6 459.4,358.0 462.7,354.7 470.9,353.1 485.8,354.7 505.5,361.3 499.0,369.6 485.8,372.9 462.7,382.8 454.4,389.4 447.8,391.0 436.0,372.0 412.0,377.5" fill="#e0a062" stroke="#9a6434" stroke-width="0.6" stroke-linejoin="round" />
<polygon points="412.0,377.5 436.0,372.0 447.8,391.0 430.0,385.0" fill="#b6b6b6" />
<line x1="437.0" y1="365.5" x2="449.5" y2="388.5" stroke="#a8703c" stroke-width="1.3" />
<line x1="443.7" y1="363.0" x2="456.0" y2="386.0" stroke="#a8703c" stroke-width="1.3" />
<line x1="449.5" y1="361.3" x2="461.0" y2="382.8" stroke="#a8703c" stroke-width="1.3" />
<line x1="458.0" y1="358.0" x2="503.0" y2="365.0" stroke="#c08a55" stroke-width="0.9" />
<polygon points="334.6,651.2 395.8,655.0 428.0,652.0 447.9,644.3 443.3,656.6 415.8,667.3 374.4,675.0 343.8,670.4 334.6,665.8" fill="#b27640" stroke="#7a4a24" stroke-width="0.6" stroke-linejoin="round" />
<polygon points="334.6,659.0 374.4,667.0 415.8,660.0 445.0,650.0 443.3,656.6 415.8,667.3 374.4,675.0 343.8,670.4 334.6,665.8" fill="#8e5a2c" />
<polygon points="334.6,650.4 339.2,644.3 360.6,632.1 380.5,624.4 388.2,619.8 402.0,614.5 406.6,616.8 415.8,635.1 437.2,636.7 444.9,638.2 447.9,644.3 428.0,652.0 395.8,655.0 334.6,651.2" fill="#e0a062" stroke="#9a6434" stroke-width="0.6" stroke-linejoin="round" />
<polygon points="380.5,624.4 388.2,619.0 402.0,616.0 406.6,617.5 417.3,644.3 412.7,648.9 398.9,652.0 394.3,648.9 383.6,629.0" fill="#d99a5c" stroke="#9a6434" stroke-width="0.7" stroke-linejoin="round" />
<polygon points="391.3,627.5 397.4,626.0 406.6,645.8 401.2,647.4" fill="#c4844a" stroke="#8a5628" stroke-width="0.7" stroke-linejoin="round" />
<polygon points="398.9,624.4 405.0,622.9 415.0,643.6 408.9,645.0" fill="#c4844a" stroke="#8a5628" stroke-width="0.7" stroke-linejoin="round" />
<line x1="392.5" y1="627.8" x2="401.8" y2="646.5" stroke="#e8b27a" stroke-width="0.6" />
<line x1="400.0" y1="624.8" x2="409.6" y2="644.2" stroke="#e8b27a" stroke-width="0.6" />
<line x1="360.6" y1="633.0" x2="395.0" y2="642.0" stroke="#b8804a" stroke-width="0.8" />
<line x1="340.0" y1="652.0" x2="428.0" y2="651.0" stroke="#e9b98a" stroke-width="0.8" />
<polygon points="715.0,472.0 764.0,482.3 757.0,491.5 745.0,494.0" fill="#b6b6b6" />
<polygon points="735.0,477.8 757.0,487.8 757.0,489.0 735.0,479.0" fill="#8a8a8a" />
<polygon points="756.4,490.8 793.2,472.4 795.3,471.0 789.0,489.4 774.8,500.7 757.8,512.0" fill="#b27640" stroke="#7a4a24" stroke-width="0.6" stroke-linejoin="round" />
<polygon points="775.0,499.0 789.0,488.4 786.0,496.0 772.0,506.0 757.8,512.0 757.8,506.0" fill="#8e5a2c" />
<polygon points="703.4,473.8 736.6,456.1 756.4,449.1 769.2,449.8 789.0,458.3 794.6,465.3 793.2,472.4 756.4,490.8 750.8,489.4 763.5,482.3 705.5,479.5" fill="#e0a062" stroke="#9a6434" stroke-width="0.6" stroke-linejoin="round" />
<line x1="712.0" y1="474.0" x2="778.0" y2="472.0" stroke="#a8703c" stroke-width="1.2" />
<line x1="715.0" y1="477.8" x2="774.0" y2="475.8" stroke="#a8703c" stroke-width="1.2" />
<line x1="718.0" y1="481.6" x2="770.0" y2="479.6" stroke="#a8703c" stroke-width="1.2" />
<line x1="749.0" y1="451.0" x2="790.0" y2="460.0" stroke="#c48c56" stroke-width="0.8" />
<polygon points="461.2,390.6 475.3,388.3 490.6,391.8 490.6,401.2 478.9,398.9 461.2,395.4" fill="#4a4a4a" />
<ellipse cx="473.5" cy="391.5" rx="3.2" ry="1.3" fill="#2e2e2e" />
<polygon points="506.0,375.3 518.3,368.3 519.5,372.0 517.7,384.8 510.7,395.4 506.0,407.1" fill="#2f2f2f" />
<polygon points="490.6,375.3 506.0,375.3 506.0,407.1 496.5,406.0 490.6,401.2" fill="#3a3a3a" />
<polygon points="493.0,371.2 510.7,361.2 517.7,358.3 526.6,360.0 526.0,363.0 520.0,364.1 518.3,368.3 506.0,375.3 490.6,375.3" fill="#585858" />
<ellipse cx="519.0" cy="360.8" rx="3.2" ry="1.0" fill="#2a2a2a" />
<polygon points="454.4,367.9 469.3,366.3 474.2,374.5 462.7,379.5 455.2,373.7" fill="#555" />
<ellipse cx="463.5" cy="371.5" rx="2.6" ry="1.4" fill="#999" />
<polygon points="149.8,519.7 154.7,522.2 155.6,543.0 150.6,541.2" fill="#3a3a3a" />
<polygon points="165.4,528.0 185.2,521.4 184.4,542.8 179.5,544.5 165.4,548.6" fill="#3c3c3c" />
<polygon points="167.1,528.6 173.5,527.0 173.5,533.0 167.1,534.2" fill="#f0f0f0" />
<polygon points="175.0,526.5 182.5,524.0 182.0,530.0 175.0,532.0" fill="#2c2c2c" />
<polygon points="154.7,525.5 165.4,528.0 165.4,548.6 160.5,552.5 154.7,549.0" fill="#333" />
<polygon points="154.7,525.5 165.4,522.2 179.5,518.9 185.2,521.4 165.4,528.0 154.7,528.8" fill="#595959" />
<polygon points="165.0,523.5 176.0,520.8 178.0,522.0 167.0,525.0" fill="#3a3a3a" />
<polygon points="141.5,514.0 145.7,510.3 156.4,509.4 163.0,515.6 163.0,519.7 154.7,522.2 149.0,519.7" fill="#4a4a4a" />
<ellipse cx="151.5" cy="514.2" rx="2.6" ry="1.5" fill="#a0a0a0" />
<polygon points="702.7,445.5 714.0,449.8 714.0,464.0 709.0,473.0 702.7,474.0" fill="#3a3a3a" />
<polygon points="704.0,444.0 720.0,438.0 749.4,435.7 752.2,439.9 729.6,448.4 714.0,449.8" fill="#5c5c5c" />
<ellipse cx="741.0" cy="438.5" rx="4.0" ry="1.2" fill="#333" />
<polygon points="720.0,462.0 737.0,457.5 745.0,459.0 745.0,466.0 729.0,471.5 720.0,472.5" fill="#3e3e3e" />
<polygon points="720.0,462.0 737.0,457.5 745.0,459.0 728.0,464.0" fill="#666" />
<polygon points="367.8,596.5 383.0,589.5 398.5,588.3 402.0,591.0 402.0,612.2 391.3,616.8 374.4,624.4 367.8,622.5" fill="#3a3a3a" />
<polygon points="367.8,596.5 383.0,589.5 398.5,588.3 402.0,591.0 386.5,597.0 371.0,599.5" fill="#5e5e5e" />
<polygon points="386.5,597.0 402.0,591.0 402.0,612.2 391.3,616.8 386.5,618.5" fill="#464646" />
<polygon points="381.0,603.2 386.3,602.3 386.3,608.6 381.0,609.5" fill="#eeeeee" />
<polygon points="371.0,599.5 386.5,597.0 386.5,599.0 371.0,601.5" fill="#2e2e2e" />
<polygon points="507.8,321.5 512.0,319.7 531.0,326.0 532.6,329.5 528.0,330.5 509.0,324.5" fill="#bb1f28" />
<polygon points="477.5,341.8 497.7,338.6 498.7,341.8 481.8,346.0" fill="#bb1f28" />
<polygon points="475.4,345.0 479.6,345.0 477.5,358.8 473.3,358.8" fill="#7c191d" />
<polygon points="151.3,478.9 173.3,476.3 172.7,479.5 157.8,482.7" fill="#bb1f28" />
<polygon points="151.0,480.0 157.0,482.0 152.6,494.4 150.0,494.0" fill="#7c191d" />
<polygon points="163.0,489.2 173.3,487.3 188.9,494.4 187.6,497.6 173.3,493.1 164.2,491.2" fill="#bb1f28" />
<polygon points="386.4,563.5 390.0,562.8 402.0,565.0 404.0,566.8 411.0,568.0 411.0,573.0 403.0,572.5 400.5,570.5 388.0,568.3" fill="#bb1f28" />
<polygon points="410.5,568.3 426.5,560.3 428.3,561.8 427.5,565.0 414.5,572.0 410.5,573.0" fill="#bb1f28" />
<polygon points="414.0,571.0 419.0,570.5 423.5,585.5 420.0,586.2" fill="#7c191d" />
<polygon points="715.3,419.5 726.0,416.8 728.4,418.5 720.5,423.5" fill="#bb1f28" />
<polygon points="715.5,420.0 720.5,423.5 724.6,441.5 721.0,442.5 716.5,428.0" fill="#7c191d" />
<polygon points="729.5,398.5 734.0,396.8 748.0,401.0 754.5,403.5 755.4,406.0 750.0,407.3 731.0,401.5" fill="#bb1f28" />
<polygon points="744.0,400.5 748.0,398.8 749.5,402.0 746.0,403.0" fill="#bb1f28" />
<ellipse cx="459.5" cy="411.2" rx="5.3" ry="2.6" fill="#a21a21" />
<ellipse cx="459.5" cy="411.0" rx="4.0" ry="1.4" fill="#b3222a" />
<ellipse cx="459.5" cy="411.2" rx="1.6" ry="0.8" fill="#5e0f12" />
<ellipse cx="482.8" cy="419.2" rx="5.3" ry="2.2" fill="#a21a21" />
<ellipse cx="482.8" cy="419.0" rx="4.0" ry="1.2" fill="#b3222a" />
<ellipse cx="482.8" cy="419.2" rx="1.6" ry="0.7" fill="#5e0f12" />
<ellipse cx="513.6" cy="398.5" rx="6.4" ry="2.7" fill="#a21a21" />
<ellipse cx="513.6" cy="398.3" rx="4.8" ry="1.5" fill="#b3222a" />
<ellipse cx="513.6" cy="398.5" rx="1.9" ry="0.8" fill="#5e0f12" />
<ellipse cx="458.5" cy="423.0" rx="3.0" ry="1.3" fill="#222" />
<rect x="456.5" y="428.5" width="3.0" height="7.7" fill="#7c191d"/>
<rect x="457.0" y="429.5" width="0.8" height="6.2" fill="#b0323a"/>
<ellipse cx="458.0" cy="435.7" rx="3.2" ry="2.1" fill="#6a1518" />
<ellipse cx="458.0" cy="428.8" rx="1.7" ry="0.8" fill="#5a1214" />
<rect x="480.3" y="430.0" width="3.2" height="14.0" fill="#7c191d"/>
<rect x="480.8" y="431.0" width="0.8" height="12.5" fill="#b0323a"/>
<ellipse cx="481.9" cy="443.5" rx="3.4" ry="2.1" fill="#6a1518" />
<ellipse cx="481.9" cy="430.3" rx="1.8" ry="0.8" fill="#5a1214" />
<rect x="510.1" y="417.0" width="3.8" height="12.9" fill="#7c191d"/>
<rect x="510.6" y="418.0" width="0.8" height="11.4" fill="#b0323a"/>
<ellipse cx="512.0" cy="429.4" rx="4.0" ry="2.1" fill="#6a1518" />
<ellipse cx="512.0" cy="417.3" rx="2.1" ry="0.8" fill="#5a1214" />
<ellipse cx="149.3" cy="554.5" rx="5.0" ry="2.1" fill="#a21a21" />
<ellipse cx="149.3" cy="554.3" rx="3.8" ry="1.2" fill="#b3222a" />
<ellipse cx="149.3" cy="554.5" rx="1.5" ry="0.6" fill="#5e0f12" />
<ellipse cx="169.8" cy="557.0" rx="6.4" ry="2.8" fill="#a21a21" />
<ellipse cx="169.8" cy="556.8" rx="4.8" ry="1.5" fill="#b3222a" />
<ellipse cx="169.8" cy="557.0" rx="1.9" ry="0.8" fill="#5e0f12" />
<ellipse cx="116.7" cy="556.3" rx="2.4" ry="1.0" fill="#222" />
<rect x="114.6" y="561.0" width="3.2" height="8.9" fill="#7c191d"/>
<rect x="115.1" y="562.0" width="0.8" height="7.4" fill="#b0323a"/>
<ellipse cx="116.2" cy="569.4" rx="3.4" ry="2.1" fill="#6a1518" />
<ellipse cx="116.2" cy="561.3" rx="1.8" ry="0.8" fill="#5a1214" />
<rect x="145.8" y="564.8" width="3.4" height="14.7" fill="#7c191d"/>
<rect x="146.3" y="565.8" width="0.8" height="13.2" fill="#b0323a"/>
<ellipse cx="147.5" cy="579.0" rx="3.6" ry="2.1" fill="#6a1518" />
<ellipse cx="147.5" cy="565.1" rx="1.9" ry="0.8" fill="#5a1214" />
<rect x="165.6" y="576.0" width="4.0" height="13.0" fill="#7c191d"/>
<rect x="166.1" y="577.0" width="0.8" height="11.5" fill="#b0323a"/>
<ellipse cx="167.6" cy="588.5" rx="4.2" ry="2.1" fill="#6a1518" />
<ellipse cx="167.6" cy="576.3" rx="2.2" ry="0.8" fill="#5a1214" />
<ellipse cx="437.5" cy="664.2" rx="2.2" ry="0.9" fill="#222" />
<rect x="435.9" y="666.5" width="3.2" height="12.0" fill="#7c191d"/>
<rect x="436.4" y="667.5" width="0.8" height="10.5" fill="#b0323a"/>
<ellipse cx="437.5" cy="678.0" rx="3.4" ry="2.1" fill="#6a1518" />
<ellipse cx="437.5" cy="666.8" rx="1.8" ry="0.8" fill="#5a1214" />
<polyline points="531.5,328.5 564.3,310.8 565.2,303.2" fill="none" stroke="#151515" stroke-width="1.1" />
<line x1="445.7" y1="330.5" x2="479.6" y2="343.9" stroke="#151515" stroke-width="1.1" />
<line x1="401.2" y1="361.0" x2="462.7" y2="378.9" stroke="#151515" stroke-width="1.1" />
<line x1="548.3" y1="357.7" x2="504.7" y2="384.8" stroke="#151515" stroke-width="1.1" />
<line x1="544.8" y1="396.8" x2="511.8" y2="427.2" stroke="#151515" stroke-width="1.1" />
<line x1="444.8" y1="452.6" x2="458.9" y2="435.7" stroke="#151515" stroke-width="1.1" />
<line x1="481.6" y1="442.7" x2="505.6" y2="448.6" stroke="#151515" stroke-width="1.1" />
<line x1="172.7" y1="478.9" x2="242.0" y2="512.5" stroke="#151515" stroke-width="1.1" />
<line x1="188.2" y1="497.0" x2="240.0" y2="533.5" stroke="#151515" stroke-width="1.1" />
<line x1="199.5" y1="566.3" x2="170.0" y2="588.0" stroke="#151515" stroke-width="1.1" />
<line x1="124.8" y1="607.0" x2="148.0" y2="578.0" stroke="#151515" stroke-width="1.1" />
<line x1="370.2" y1="568.3" x2="397.6" y2="600.3" stroke="#151515" stroke-width="1.1" />
<polyline points="325.0,630.0 329.0,628.5 368.0,616.0" fill="none" stroke="#151515" stroke-width="1.1" />
<line x1="574.3" y1="572.7" x2="611.0" y2="600.0" stroke="#151515" stroke-width="1.1" />
<line x1="437.0" y1="673.5" x2="469.0" y2="678.8" stroke="#151515" stroke-width="1.1" /></svg>
<div class="t" style="left:40.90px;top:39.90px;font-size:13px;color:#1a1a1a;transform:scaleX(1.0198);transform-origin:0 0;">ИНСТРУКЦИЯ ПО УСТАНОВКЕ</div>
<div class="t" style="left:40.50px;top:56.27px;font-size:13.5px;color:#1a1a1a;font-weight:700;transform:scaleX(1.1552);transform-origin:0 0;">9.5705.4 Комплект крепежа к порогам</div>
<div class="t" style="left:70.40px;top:161.11px;font-size:10.5px;color:#222;transform:scaleX(1.0122);transform-origin:0 0;">Марка</div>
<div class="t" style="left:173.70px;top:161.01px;font-size:10.5px;color:#222;transform:scaleX(1.0105);transform-origin:0 0;">Модель</div>
<div class="t" style="left:283.90px;top:161.91px;font-size:10.5px;color:#222;transform:scaleX(1.0639);transform-origin:0 0;">Год выпуска</div>
<div class="t" style="left:394.90px;top:161.91px;font-size:10.5px;color:#222;transform:scaleX(1.0651);transform-origin:0 0;">Объём двигателя</div>
<div class="t" style="left:534.10px;top:161.51px;font-size:10.5px;color:#222;transform:scaleX(1.0783);transform-origin:0 0;">Тип КПП</div>
<div class="t" style="left:618.20px;top:160.31px;font-size:10.5px;color:#222;transform:scaleX(1.0845);transform-origin:0 0;">Тип привода</div>
<div class="t" style="left:692.20px;top:153.91px;font-size:10.5px;color:#222;transform:scaleX(1.0425);transform-origin:0 0;">Рекомендуемая длина</div>
<div class="t" style="left:696.70px;top:166.51px;font-size:10.5px;color:#222;transform:scaleX(1.0608);transform-origin:0 0;">порог-площадки, мм</div>
<div class="t" style="left:67.80px;top:200.85px;font-size:14px;color:#222;letter-spacing:-0.175px;">Toyota</div>
<div class="t" style="left:183.60px;top:199.65px;font-size:14px;color:#222;letter-spacing:-0.747px;">Rav4</div>
<div class="t" style="left:302.40px;top:199.15px;font-size:14px;color:#222;letter-spacing:-0.442px;">2015-</div>
<div class="t" style="left:429.60px;top:199.15px;font-size:14px;color:#222;letter-spacing:-0.675px;">Все</div>
<div class="t" style="left:539.00px;top:199.15px;font-size:14px;color:#222;letter-spacing:-0.642px;">Все</div>
<div class="t" style="left:635.40px;top:198.65px;font-size:14px;color:#222;letter-spacing:-0.475px;">4WD</div>
<div class="t" style="left:731.90px;top:198.65px;font-size:14px;color:#222;letter-spacing:-0.089px;">1730</div>
<div class="t" style="left:565.70px;top:300.37px;font-size:13.5px;color:#1e1e1e;-webkit-text-stroke:0.25px #1e1e1e;letter-spacing:0.217px;">Гайка закладная М10</div>
<div class="t" style="left:315.10px;top:319.67px;font-size:13.5px;color:#1e1e1e;-webkit-text-stroke:0.25px #1e1e1e;letter-spacing:0.224px;">Гайка закладная М8</div>
<div class="t" style="left:362.20px;top:351.67px;font-size:13.5px;color:#1e1e1e;-webkit-text-stroke:0.25px #1e1e1e;letter-spacing:0.151px;">Опора</div>
<div class="t" style="left:548.30px;top:349.27px;font-size:13.5px;color:#1e1e1e;-webkit-text-stroke:0.25px #1e1e1e;letter-spacing:0.311px;">Кронштейн передний</div>
<div class="t" style="left:544.80px;top:385.77px;font-size:13.5px;color:#1e1e1e;-webkit-text-stroke:0.25px #1e1e1e;letter-spacing:0.207px;">Болт М10х30</div>
<div class="t" style="left:544.80px;top:401.87px;font-size:13.5px;color:#1e1e1e;-webkit-text-stroke:0.25px #1e1e1e;letter-spacing:0.221px;">Шайба 10 ув.</div>
<div class="t" style="left:544.80px;top:417.57px;font-size:13.5px;color:#1e1e1e;-webkit-text-stroke:0.25px #1e1e1e;letter-spacing:0.146px;">Шайба 10 пр.</div>
<div class="t" style="left:369.90px;top:441.87px;font-size:13.5px;color:#1e1e1e;-webkit-text-stroke:0.25px #1e1e1e;letter-spacing:0.049px;">Болт М8х16</div>
<div class="t" style="left:369.90px;top:457.47px;font-size:13.5px;color:#1e1e1e;-webkit-text-stroke:0.25px #1e1e1e;letter-spacing:0.096px;">Шайба 8 ув.</div>
<div class="t" style="left:369.90px;top:472.97px;font-size:13.5px;color:#1e1e1e;-webkit-text-stroke:0.25px #1e1e1e;letter-spacing:0.015px;">Шайба 8 пр.</div>
<div class="t" style="left:505.60px;top:439.07px;font-size:13.5px;color:#1e1e1e;-webkit-text-stroke:0.25px #1e1e1e;letter-spacing:0.049px;">Болт М8х25</div>
<div class="t" style="left:505.60px;top:454.57px;font-size:13.5px;color:#1e1e1e;-webkit-text-stroke:0.25px #1e1e1e;letter-spacing:0.241px;">Шайба 8 ув.</div>
<div class="t" style="left:505.60px;top:470.17px;font-size:13.5px;color:#1e1e1e;-webkit-text-stroke:0.25px #1e1e1e;letter-spacing:0.160px;">Шайба 8 пр.</div>
<div class="t" style="left:242.60px;top:502.17px;font-size:13.5px;color:#1e1e1e;-webkit-text-stroke:0.25px #1e1e1e;letter-spacing:0.224px;">Гайка закладная М8</div>
<div class="t" style="left:240.90px;top:524.47px;font-size:13.5px;color:#1e1e1e;-webkit-text-stroke:0.25px #1e1e1e;letter-spacing:0.217px;">Гайка закладная М10</div>
<div class="t" style="left:200.60px;top:555.17px;font-size:13.5px;color:#1e1e1e;-webkit-text-stroke:0.25px #1e1e1e;letter-spacing:0.207px;">Болт М10х30</div>
<div class="t" style="left:200.60px;top:570.87px;font-size:13.5px;color:#1e1e1e;-webkit-text-stroke:0.25px #1e1e1e;letter-spacing:0.221px;">Шайба 10 ув.</div>
<div class="t" style="left:200.60px;top:586.27px;font-size:13.5px;color:#1e1e1e;-webkit-text-stroke:0.25px #1e1e1e;letter-spacing:0.146px;">Шайба 10 пр.</div>
<div class="t" style="left:330.00px;top:558.17px;font-size:13.5px;color:#1e1e1e;-webkit-text-stroke:0.25px #1e1e1e;letter-spacing:0.151px;">Опора</div>
<div class="t" style="left:48.30px;top:600.77px;font-size:13.5px;color:#1e1e1e;-webkit-text-stroke:0.25px #1e1e1e;letter-spacing:0.209px;">Болт М8х25</div>
<div class="t" style="left:48.30px;top:616.97px;font-size:13.5px;color:#1e1e1e;-webkit-text-stroke:0.25px #1e1e1e;letter-spacing:0.241px;">Шайба 8 ув.</div>
<div class="t" style="left:48.30px;top:632.07px;font-size:13.5px;color:#1e1e1e;-webkit-text-stroke:0.25px #1e1e1e;letter-spacing:0.160px;">Шайба 8 пр.</div>
<div class="t" style="left:207.70px;top:619.97px;font-size:13.5px;color:#1e1e1e;-webkit-text-stroke:0.25px #1e1e1e;letter-spacing:0.195px;">Кронштейн задний</div>
<div class="t" style="left:613.00px;top:589.97px;font-size:13.5px;color:#1e1e1e;-webkit-text-stroke:0.25px #1e1e1e;letter-spacing:0.271px;">Порог-площадка</div>
<div class="t" style="left:469.00px;top:668.07px;font-size:13.5px;color:#1e1e1e;-webkit-text-stroke:0.25px #1e1e1e;letter-spacing:0.289px;">Болт М8х16</div>
<div class="t" style="left:469.00px;top:683.47px;font-size:13.5px;color:#1e1e1e;-webkit-text-stroke:0.25px #1e1e1e;letter-spacing:0.241px;">Шайба 8 ув.</div>
<div class="t" style="left:469.00px;top:699.27px;font-size:13.5px;color:#1e1e1e;-webkit-text-stroke:0.25px #1e1e1e;letter-spacing:0.160px;">Шайба 8 пр.</div>
<div class="t" style="left:40.60px;top:860.69px;font-size:11px;color:#111;font-weight:700;letter-spacing:0.177px;">Инструкция по установке:</div>
<div class="t" style="left:40.50px;top:882.57px;font-size:8.3px;color:#3c3c3c;letter-spacing:0.116px;"><b>1.</b> Вытащить резиновые заглушки, расположенные в местах крепления кронштейнов.</div>
<div class="t" style="left:40.50px;top:892.08px;font-size:8.3px;color:#3c3c3c;letter-spacing:0.113px;"><b>2.</b> Установить гайку закладную М8 в отверстие в передней части порога автомобиля (рис.1а).</div>
<div class="t" style="left:40.50px;top:901.59px;font-size:8.3px;color:#3c3c3c;letter-spacing:0.129px;"><b>3.</b> При помощи болта М8х16 и шайб 8 закрепить опору на установленную гайку закладную М8</div>
<div class="t" style="left:40.50px;top:911.10px;font-size:8.3px;color:#3c3c3c;letter-spacing:0.043px;">(рис.2).</div>
<div class="t" style="left:40.50px;top:920.61px;font-size:8.3px;color:#3c3c3c;letter-spacing:0.114px;"><b>4.</b> Установить гайку закладную М10 в отверстие в передней части днища автомобиля (рис.1б).</div>
<div class="t" style="left:40.50px;top:930.12px;font-size:8.3px;color:#3c3c3c;letter-spacing:0.123px;"><b>5.</b> При помощи болта М10х30 и шайб 10 закрепить кронштейн передний на установленную</div>
<div class="t" style="left:40.50px;top:939.63px;font-size:8.3px;color:#3c3c3c;letter-spacing:0.283px;">гайку закладную М10 (рис.2).</div>
<div class="t" style="left:40.50px;top:949.14px;font-size:8.3px;color:#3c3c3c;letter-spacing:0.135px;"><b>6.</b> При помощи болта М8х25 и шайб 8 закрепить переднюю часть кронштейна переднего к</div>
<div class="t" style="left:40.50px;top:958.65px;font-size:8.3px;color:#3c3c3c;letter-spacing:0.085px;">опоре (рис.2).</div>
<div class="t" style="left:40.50px;top:968.16px;font-size:8.3px;color:#3c3c3c;letter-spacing:0.106px;"><b>7.</b> Установить гайку закладную М8 в отверстие в задней части порога автомобиля (рис.3а).</div>
<div class="t" style="left:40.50px;top:977.67px;font-size:8.3px;color:#3c3c3c;letter-spacing:0.129px;"><b>8.</b> При помощи болта М8х16 и шайб 8 закрепить опору на установленную гайку закладную М8</div>
<div class="t" style="left:40.50px;top:987.18px;font-size:8.3px;color:#3c3c3c;letter-spacing:0.043px;">(рис.4).</div>
<div class="t" style="left:40.50px;top:996.69px;font-size:8.3px;color:#3c3c3c;letter-spacing:0.105px;"><b>9.</b> Установить гайку закладную М10 в отверстие в задней части днища автомобиля (рис.3б).</div>
<div class="t" style="left:40.50px;top:1006.20px;font-size:8.3px;color:#3c3c3c;letter-spacing:0.128px;"><b>10.</b> При помощи болта М10х30 и шайб 10 закрепить кронштейн задний на установленную</div>
<div class="t" style="left:40.50px;top:1015.71px;font-size:8.3px;color:#3c3c3c;letter-spacing:0.283px;">гайку закладную М10 (рис.4).</div>
<div class="t" style="left:40.50px;top:1025.22px;font-size:8.3px;color:#3c3c3c;letter-spacing:0.110px;"><b>11.</b>  При помощи болта М8х25 и шайб 8 закрепить переднюю часть кронштейна заднего к</div>
<div class="t" style="left:40.50px;top:1034.73px;font-size:8.3px;color:#3c3c3c;letter-spacing:0.085px;">опоре (рис.4).</div>
<div class="t" style="left:40.50px;top:1044.24px;font-size:8.3px;color:#3c3c3c;letter-spacing:0.121px;"><b>12.</b> Установить порог-площадку на кронштейны. Отрегулировать положение порог-площадки.</div>
<div class="t" style="left:40.50px;top:1053.75px;font-size:8.3px;color:#3c3c3c;letter-spacing:0.094px;"><b>13.</b> Затянуть все резьбовые соединения.</div>
<div class="t" style="left:40.40px;top:1076.89px;font-size:11px;color:#111;font-weight:700;letter-spacing:0.236px;">Рекомендации по установке:</div>
<div class="t" style="left:40.50px;top:1099.17px;font-size:8.3px;color:#3c3c3c;letter-spacing:0.099px;"><b>1.</b> Не рекомендуется использование пневмоинструмента.</div>
<div class="t" style="left:40.50px;top:1108.67px;font-size:8.3px;color:#3c3c3c;letter-spacing:0.130px;"><b>2.</b> Не рекомендуется использование агрессивных химических средств при мойке.</div>
<div class="t" style="left:40.50px;top:1120.97px;font-size:8.3px;color:#111;font-weight:700;letter-spacing:0.138px;">Перед установкой изделия необходимо убедиться, что автомобиль, на который планируется установка, соответствует модельному ряду, указанному в настоящей инструкции.</div>
<div class="t" style="left:40.50px;top:1130.57px;font-size:8.3px;color:#111;font-weight:700;letter-spacing:0.186px;">В случае затруднений с определением соответствия обращайтесь службу технической поддержки <span style="font-weight:400">supp@rivalauto.com.</span> В случае наезда на препятствие необходимо убедиться</div>
<div class="t" style="left:40.50px;top:1140.17px;font-size:8.3px;color:#111;font-weight:700;letter-spacing:0.220px;">в отсутствии повреждений и агрегатов автомобиля и пригодности дальнейшей <span style="font-weight:400">эксплуатации порогов. При правильной</span> установке пороги не должны касаться узлов и агрегатов</div>
<div class="t" style="left:40.50px;top:1149.77px;font-size:8.3px;color:#111;font-weight:700;letter-spacing:0.110px;">автомобиля. Производитель вправе вносить изменения в конструкцию порогов.</div>
<div class="t" style="left:438.60px;top:860.79px;font-size:11px;color:#111;font-weight:700;letter-spacing:0.204px;">Состав крепежа:</div>
<div class="t" style="left:444.50px;top:885.71px;font-size:10.5px;color:#222;transform:scaleX(1.0742);transform-origin:0 0;">Наименование</div>
<div class="t" style="left:577.80px;top:885.71px;font-size:10.5px;color:#222;transform:scaleX(1.0840);transform-origin:0 0;">Кол-во</div>
<div class="t" style="left:650.90px;top:885.71px;font-size:10.5px;color:#222;transform:scaleX(1.0752);transform-origin:0 0;">Момент затяжки</div>
<div class="t" style="left:501.30px;top:903.93px;font-size:10px;color:#333;transform:scaleX(0.9013);transform-origin:0 0;">Болт М10х30</div>
<div class="t" style="left:583.70px;top:902.67px;font-size:11.5px;color:#1a1a1a;transform:scaleX(1.0999);transform-origin:0 0;">4 шт</div>
<div class="t" style="left:672.00px;top:902.67px;font-size:11.5px;color:#1a1a1a;transform:scaleX(1.1245);transform-origin:0 0;">47.0 Нм</div>
<div class="t" style="left:507.00px;top:916.68px;font-size:10px;color:#333;transform:scaleX(0.8889);transform-origin:0 0;">Болт М8х25</div>
<div class="t" style="left:583.70px;top:915.42px;font-size:11.5px;color:#1a1a1a;transform:scaleX(1.0999);transform-origin:0 0;">4 шт</div>
<div class="t" style="left:672.00px;top:915.42px;font-size:11.5px;color:#1a1a1a;transform:scaleX(1.1245);transform-origin:0 0;">24.0 Нм</div>
<div class="t" style="left:507.00px;top:929.43px;font-size:10px;color:#333;transform:scaleX(0.8889);transform-origin:0 0;">Болт М8х16</div>
<div class="t" style="left:583.70px;top:928.17px;font-size:11.5px;color:#1a1a1a;transform:scaleX(1.0999);transform-origin:0 0;">4 шт</div>
<div class="t" style="left:466.40px;top:942.18px;font-size:10px;color:#333;transform:scaleX(0.9002);transform-origin:0 0;">Гайка закладная М10</div>
<div class="t" style="left:583.70px;top:940.92px;font-size:11.5px;color:#1a1a1a;transform:scaleX(1.0999);transform-origin:0 0;">4 шт</div>
<div class="t" style="left:471.70px;top:954.93px;font-size:10px;color:#333;transform:scaleX(0.8970);transform-origin:0 0;">Гайка закладная М8</div>
<div class="t" style="left:583.70px;top:953.67px;font-size:11.5px;color:#1a1a1a;transform:scaleX(1.0999);transform-origin:0 0;">4 шт</div>
<div class="t" style="left:501.30px;top:967.68px;font-size:10px;color:#333;transform:scaleX(0.8944);transform-origin:0 0;">Шайба 10 ув.</div>
<div class="t" style="left:583.70px;top:966.42px;font-size:11.5px;color:#1a1a1a;transform:scaleX(1.0999);transform-origin:0 0;">4 шт</div>
<div class="t" style="left:500.60px;top:980.43px;font-size:10px;color:#333;transform:scaleX(0.8963);transform-origin:0 0;">Шайба 10 пр.</div>
<div class="t" style="left:583.70px;top:979.17px;font-size:11.5px;color:#1a1a1a;transform:scaleX(1.0999);transform-origin:0 0;">4 шт</div>
<div class="t" style="left:506.00px;top:993.18px;font-size:10px;color:#333;transform:scaleX(0.8994);transform-origin:0 0;">Шайба 8 ув.</div>
<div class="t" style="left:583.70px;top:991.92px;font-size:11.5px;color:#1a1a1a;transform:scaleX(1.0999);transform-origin:0 0;">8 шт</div>
<div class="t" style="left:506.00px;top:1005.93px;font-size:10px;color:#333;transform:scaleX(0.8889);transform-origin:0 0;">Шайба 8 пр.</div>
<div class="t" style="left:583.70px;top:1004.67px;font-size:11.5px;color:#1a1a1a;transform:scaleX(1.0999);transform-origin:0 0;">8 шт</div>
<div class="t" style="left:467.50px;top:1018.69px;font-size:10px;color:#333;transform:scaleX(0.8955);transform-origin:0 0;">Кронштейн передний</div>
<div class="t" style="left:583.70px;top:1017.42px;font-size:11.5px;color:#1a1a1a;transform:scaleX(1.0999);transform-origin:0 0;">2 шт</div>
<div class="t" style="left:477.70px;top:1031.44px;font-size:10px;color:#333;transform:scaleX(0.8990);transform-origin:0 0;">Кронштейн задний</div>
<div class="t" style="left:583.70px;top:1030.17px;font-size:11.5px;color:#1a1a1a;transform:scaleX(1.0999);transform-origin:0 0;">2 шт</div>
<div class="t" style="left:530.60px;top:1044.19px;font-size:10px;color:#333;transform:scaleX(0.8498);transform-origin:0 0;">Опора</div>
<div class="t" style="left:583.70px;top:1042.92px;font-size:11.5px;color:#1a1a1a;transform:scaleX(1.0999);transform-origin:0 0;">4 шт</div>
</body></html>
